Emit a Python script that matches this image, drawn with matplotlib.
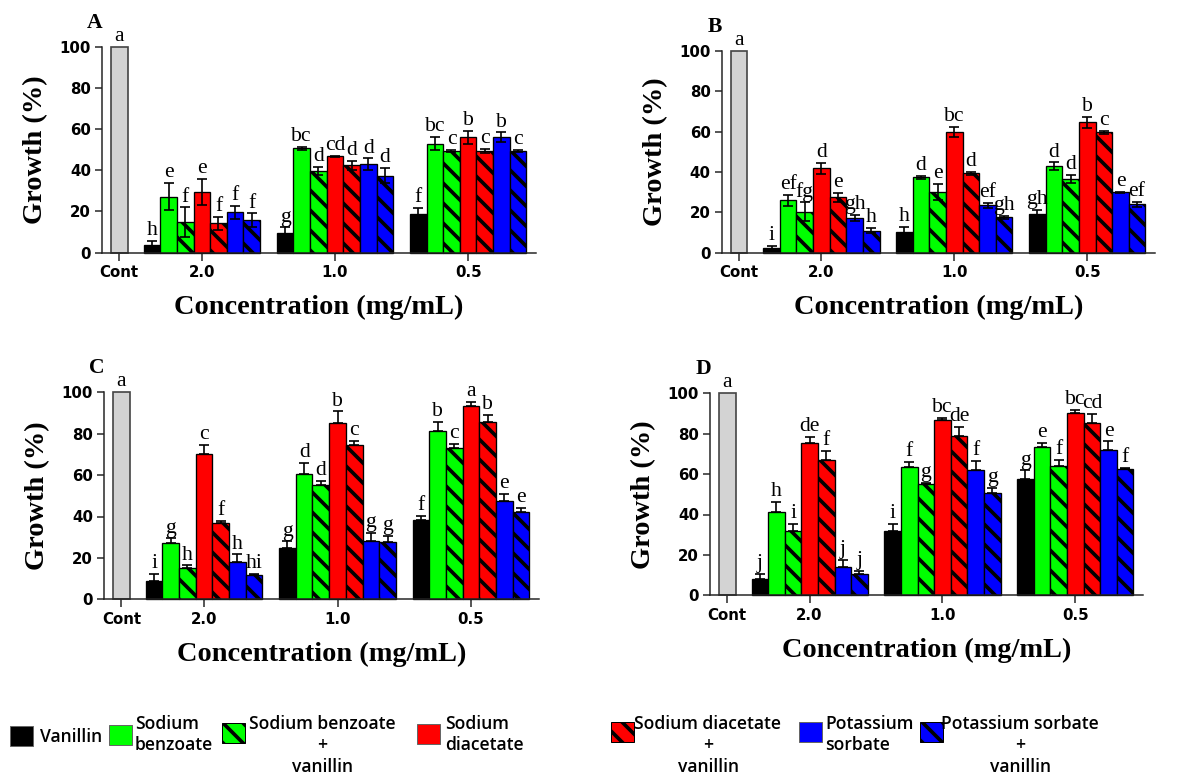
import numpy as np
import matplotlib.pyplot as plt
from matplotlib.patches import Rectangle

DPI = 120
W, H = 1189, 780

plt.rcParams['hatch.linewidth'] = 2.2

groups = ["2.0", "1.0", "0.5"]
series = ["Vanillin", "Sodium\nbenzoate", "Sodium benzoate\n+\nvanillin",
          "Sodium\ndiacetate", "Sodium diacetate\n+\nvanillin",
          "Potassium\nsorbate", "Potassium sorbate\n+\nvanillin"]
colors = ["#000000", "#00ff00", "#00ff00", "#ff0000", "#ff0000", "#0000ff", "#0000ff"]
hatched = [False, False, True, False, True, False, True]
control_value = 100
control_letter = "a"

# rows: 2.0, 1.0, 0.5 mg/mL ; columns follow `series`
A_mean = [[3.7, 27.2, 14.7, 29.6, 14.2, 19.6, 15.9],
          [9.7, 50.6, 39.8, 46.8, 42.4, 42.9, 37.4],
          [18.6, 52.9, 49.4, 56.0, 49.4, 56.0, 49.4]]
A_err = [[2.1, 6.5, 7.3, 6.3, 3.2, 3.1, 3.2],
         [2.6, 0.8, 1.9, 0.3, 2.3, 2.9, 3.6],
         [3.2, 3.2, 0.5, 3.2, 1.0, 2.4, 0.5]]
A_let = [["h", "e", "f", "e", "f", "f", "f"],
         ["g", "bc", "d", "cd", "d", "d", "d"],
         ["f", "bc", "c", "b", "c", "b", "c"]]

B_mean = [[2.3, 26.0, 20.3, 41.8, 27.4, 17.2, 11.0],
          [10.2, 37.4, 30.0, 60.0, 39.3, 23.6, 17.5],
          [19.0, 42.8, 36.4, 64.6, 59.7, 30.0, 24.0]]
B_err = [[1.0, 2.6, 4.6, 2.6, 2.3, 1.5, 1.3],
         [2.6, 0.8, 4.0, 2.5, 0.8, 1.2, 0.8],
         [2.3, 2.0, 2.0, 2.6, 0.7, 0.2, 1.2]]
B_let = [["i", "ef", "fg", "d", "e", "gh", "h"],
         ["h", "d", "e", "bc", "d", "ef", "gh"],
         ["gh", "d", "d", "b", "c", "e", "ef"]]

C_mean = [[8.9, 27.0, 15.1, 70.0, 36.7, 18.0, 11.9],
          [25.0, 60.4, 55.0, 85.2, 74.6, 28.3, 27.7],
          [38.5, 81.5, 73.1, 93.6, 85.7, 47.3, 42.2]]
C_err = [[3.2, 2.4, 1.3, 4.7, 1.3, 3.7, 0.5],
         [3.0, 5.3, 2.2, 5.6, 1.8, 3.9, 3.0],
         [1.8, 4.3, 2.1, 1.8, 3.2, 3.7, 1.8]]
C_let = [["i", "g", "h", "c", "f", "h", "hi"],
         ["g", "d", "d", "b", "c", "g", "g"],
         ["f", "b", "c", "a", "b", "e", "e"]]

D_mean = [[7.9, 41.3, 32.0, 75.2, 66.8, 13.9, 10.4],
          [31.7, 63.4, 55.3, 86.8, 78.7, 62.0, 50.7],
          [57.8, 73.3, 64.0, 90.1, 85.1, 72.1, 62.4]]
D_err = [[2.8, 5.0, 3.3, 3.3, 4.5, 3.5, 1.5],
         [3.6, 2.8, 0.2, 1.0, 4.5, 4.5, 2.3],
         [4.0, 2.0, 3.0, 1.6, 4.6, 4.1, 0.7]]
D_let = [["j", "h", "i", "de", "f", "j", "j"],
         ["i", "f", "g", "bc", "de", "f", "g"],
         ["g", "e", "f", "bc", "cd", "e", "f"]]

panels = [
    ("A", A_mean, A_err, A_let, True, (102, 46.7, 536, 252.7)),
    ("B", B_mean, B_err, B_let, True, (721.7, 51, 1155, 252.7)),
    ("C", C_mean, C_err, C_let, False, (104, 392.3, 539, 599.3)),
    ("D", D_mean, D_err, D_let, False, (710, 393.3, 1143, 595.3)),
]

serif = "Liberation Serif"
sans = "DejaVu Sans"
spine_col = "#222222"
bar_w = 0.125
cont_x = 0.0
group_x = np.array([0.62, 1.62, 2.62])

fig = plt.figure(figsize=(W / DPI, H / DPI), dpi=DPI)

for name, means, errs, lets, both_sides, (l, t, r, b) in panels:
    ax = fig.add_axes([l / W, 1 - b / H, (r - l) / W, (b - t) / H])
    means = np.array(means)
    errs = np.array(errs)

    ax.bar(cont_x, control_value, bar_w, color="#d3d3d3", edgecolor="#444444",
           linewidth=1.0, clip_on=False, zorder=2)
    ax.annotate(control_letter, (cont_x, control_value), xytext=(0, 0.5),
                textcoords="offset points", ha="center", va="bottom",
                family=serif, fontsize=13)

    for i in range(len(series)):
        xs = group_x + (i - 3) * bar_w
        ax.bar(xs, means[:, i], bar_w, color=colors[i], edgecolor="black",
               linewidth=0.8, hatch="\\\\" if hatched[i] else None,
               clip_on=False, zorder=2)
        lower = errs[:, i] if both_sides else np.zeros(len(groups))
        ax.errorbar(xs, means[:, i], yerr=[lower, errs[:, i]], fmt="none",
                    ecolor="black", elinewidth=1.0, capsize=3.2, capthick=1.0,
                    zorder=3, clip_on=False)
        for g in range(len(groups)):
            ax.annotate(lets[g][i], (xs[g], means[g, i] + errs[g, i]),
                        xytext=(0, 0.5), textcoords="offset points",
                        ha="center", va="bottom", family=serif, fontsize=13)

    ax.set_xlim(-0.13, 3.13)
    ax.set_ylim(0, 100)
    ax.set_yticks([0, 20, 40, 60, 80, 100])
    ax.set_xticks([cont_x] + list(group_x))
    ax.set_xticklabels(["Cont"] + groups)
    for lab in ax.get_xticklabels() + ax.get_yticklabels():
        lab.set_family(sans)
        lab.set_fontweight("bold")
        lab.set_fontsize(9)
    ax.tick_params(direction="out", length=4.5, width=0.9, color=spine_col, pad=2)
    ax.tick_params(axis="x", pad=3)
    ax.spines["top"].set_visible(False)
    ax.spines["right"].set_visible(False)
    for s in ["left", "bottom"]:
        ax.spines[s].set_linewidth(0.9)
        ax.spines[s].set_color(spine_col)
    ax.set_ylabel("Growth (%)", family=serif, fontweight="bold", fontsize=17, labelpad=7)
    ax.set_xlabel("Concentration (mg/mL)", family=serif, fontweight="bold", fontsize=17,
                  labelpad=9)
    ax.text(-7 / (r - l), 1 + 24 / (b - t), name, transform=ax.transAxes,
            ha="center", va="center", family=serif, fontweight="bold", fontsize=13)

# legend drawn in pixel coordinates along the bottom
leg = fig.add_axes([0, 0, 1, 1])
leg.set_xlim(0, W)
leg.set_ylim(H, 0)
leg.axis("off")
leg.patch.set_alpha(0)
patch_x = [10, 109, 222, 417, 611, 799, 920]
patch_y = [726, 725, 723, 724, 722, 722, 722]
text_x = [40, 135, 322, 445, 708, 825, 1020]
for i, lab in enumerate(series):
    leg.add_patch(Rectangle((patch_x[i], patch_y[i]), 23, 20, facecolor=colors[i],
                            edgecolor="black" if hatched[i] else "#666666",
                            linewidth=0.6,
                            hatch="\\\\" if hatched[i] else None))
    if "\n" not in lab:
        leg.text(text_x[i], 737, lab, ha="left", va="center",
                 family="Open Sans", fontweight="semibold", fontsize=10.5)
    elif "+" in lab:
        leg.text(text_x[i], 715, lab, ha="center", va="top", multialignment="center",
                 family="Open Sans", fontweight="semibold", fontsize=10.5, linespacing=1.25)
    else:
        leg.text(text_x[i], 715, lab, ha="left", va="top",
                 family="Open Sans", fontweight="semibold", fontsize=10.5, linespacing=1.2)

fig.savefig("out.png", dpi=DPI)
